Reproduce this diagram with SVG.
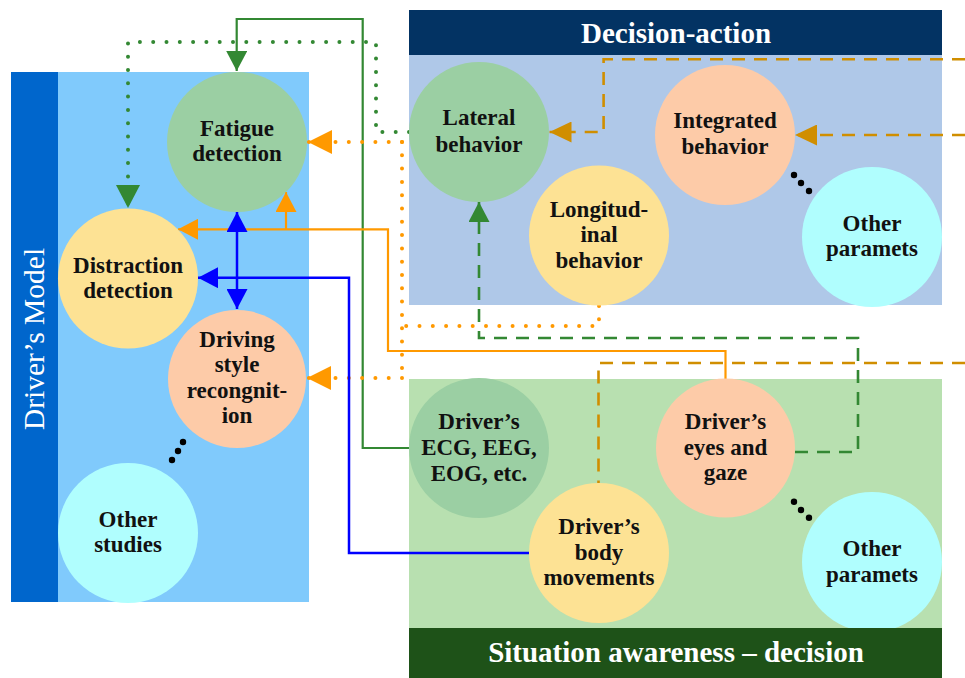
<svg xmlns="http://www.w3.org/2000/svg" width="965" height="678" viewBox="0 0 965 678">
<defs>
<style>
.nt{font-family:"Liberation Serif","Times New Roman",serif;font-weight:bold;font-size:23px;fill:#111;text-anchor:middle}
.ht{font-family:"Liberation Serif","Times New Roman",serif;font-weight:bold;font-size:29px;fill:#fff;text-anchor:middle}
.vt{font-family:"Liberation Serif","Times New Roman",serif;font-size:29.5px;fill:#fff;text-anchor:middle}
.c{fill:none;stroke-width:2.2}
.green{stroke:#338833}
.orange{stroke:#FF9900}
.gold{stroke:#D08E00}
.blue{stroke:#0000FF;stroke-width:2.5}
.dot{stroke-width:4;stroke-linecap:round;stroke-dasharray:0 13.3}
.dash{stroke-width:2.6;stroke-dasharray:13 9}
.cg{fill:#9BCFA3}
.cy{fill:#FDE294}
.cp{fill:#FDCBA8}
.cc{fill:#B0FEFE}
.ell{fill:#000}
</style>
<marker id="aG" markerUnits="userSpaceOnUse" viewBox="0 0 21 21" markerWidth="21" markerHeight="21" refX="20" refY="10.5" orient="auto"><path d="M0,0 L20,10.5 L0,21z" fill="#338833"/></marker>
<marker id="aGb" markerUnits="userSpaceOnUse" viewBox="0 0 24 24" markerWidth="24" markerHeight="24" refX="23" refY="12" orient="auto"><path d="M0,0 L23,12 L0,24z" fill="#338833"/></marker>
<marker id="aO" markerUnits="userSpaceOnUse" viewBox="0 0 21 21" markerWidth="21" markerHeight="21" refX="20" refY="10.5" orient="auto"><path d="M0,0 L20,10.5 L0,21z" fill="#FF9900"/></marker>
<marker id="aOb" markerUnits="userSpaceOnUse" viewBox="0 0 24 24" markerWidth="24" markerHeight="24" refX="24" refY="12" orient="auto"><path d="M0,0 L24,12 L0,24z" fill="#FF9900"/></marker>
<marker id="aD" markerUnits="userSpaceOnUse" viewBox="0 0 22 21" markerWidth="22" markerHeight="21" refX="22" refY="10.5" orient="auto"><path d="M0,0 L22,10.5 L0,21z" fill="#D08E00"/></marker>
<marker id="aB" markerUnits="userSpaceOnUse" viewBox="0 0 21 21" markerWidth="21" markerHeight="21" refX="20" refY="10.5" orient="auto-start-reverse"><path d="M0,0 L20,10.5 L0,21z" fill="#0000FF"/></marker>
</defs>

<g id="panels">
<rect x="11" y="72" width="298" height="530" fill="#80CAFC"/>
<rect x="11" y="72" width="47" height="530" fill="#0066CC"/>
<text class="vt" transform="translate(44,339) rotate(-90)">Driver’s Model</text>
<rect x="409" y="10" width="533" height="45" fill="#033363"/>
<rect x="409" y="55" width="533" height="250" fill="#AFC8E8"/>
<text class="ht" x="676" y="43">Decision-action</text>
<rect x="409" y="379" width="533" height="249" fill="#B8E0B0"/>
</g>

<g id="connectors">
<path class="c green" d="M409,448 H362.7 V19 H236.7 V71" marker-end="url(#aG)"/>
<path class="c green dot" d="M409,132 H376 V42 H128 V208" marker-end="url(#aGb)"/>
<path class="c green dash" d="M795,452 H858 V338 H479 V202" marker-end="url(#aG)"/>
<path class="c orange" d="M725.5,379 V351 H388 V229.3 H178" marker-end="url(#aO)"/>
<path class="c orange" d="M286,229.3 V192" marker-end="url(#aO)"/>
<path class="c orange dot" d="M599,306 V326 H402"/>
<path class="c orange dot" d="M402,142 V378"/>
<path class="c orange dot" d="M402,142 H308" marker-end="url(#aOb)"/>
<path class="c orange dot" d="M402,378 H307" marker-end="url(#aOb)"/>
<path class="c gold dash" d="M965,59.3 H603.6 V132 H549.5" marker-end="url(#aD)"/>
<path class="c gold dash" d="M965,135 H795" marker-end="url(#aD)"/>
<path class="c gold dash" d="M965,363 H598.5 V483"/>
<path class="c blue" d="M529,553 H349 V277.7 H198" marker-end="url(#aB)"/>
<path class="c blue" d="M237,212 V309" marker-start="url(#aB)" marker-end="url(#aB)"/>
</g>

<g id="fatigue"><circle class="cg" cx="237" cy="142" r="70"/><text class="nt" x="237" y="136">Fatigue</text><text class="nt" x="237" y="161.3">detection</text></g>
<g id="distraction"><circle class="cy" cx="128" cy="278.5" r="70"/><text class="nt" x="128" y="272.7">Distraction</text><text class="nt" x="128" y="297.7">detection</text></g>
<g id="driving-style"><circle class="cp" cx="237" cy="379" r="69"/><text class="nt" x="237" y="346.5">Driving</text><text class="nt" x="237" y="372">style</text><text class="nt" x="237" y="397.5">recongnit-</text><text class="nt" x="237" y="423">ion</text></g>
<g id="other-studies"><circle class="cc" cx="128" cy="533" r="70"/><text class="nt" x="128" y="526.7">Other</text><text class="nt" x="128" y="551.7">studies</text></g>
<g id="ellipsis-1"><circle class="ell" cx="183" cy="442" r="3.2"/><circle class="ell" cx="178" cy="451" r="3.2"/><circle class="ell" cx="172" cy="460" r="3.2"/></g>

<g id="lateral"><circle class="cg" cx="479" cy="132" r="70"/><text class="nt" x="479" y="125">Lateral</text><text class="nt" x="479" y="151.7">behavior</text></g>
<g id="longitudinal"><circle class="cy" cx="599" cy="235.5" r="70"/><text class="nt" x="599" y="216.7">Longitud-</text><text class="nt" x="599" y="241.7">inal</text><text class="nt" x="599" y="267.7">behavior</text></g>
<g id="integrated"><circle class="cp" cx="725" cy="135" r="70"/><text class="nt" x="725" y="128.3">Integrated</text><text class="nt" x="725" y="154">behavior</text></g>
<g id="other-params-top"><circle class="cc" cx="872" cy="237" r="70"/><text class="nt" x="872" y="230.7">Other</text><text class="nt" x="872" y="255.7">paramets</text></g>
<g id="ellipsis-2"><circle class="ell" cx="794" cy="175" r="3.2"/><circle class="ell" cx="801" cy="183" r="3.2"/><circle class="ell" cx="809" cy="191" r="3.2"/></g>

<g id="ecg"><circle class="cg" cx="479" cy="448" r="70"/><text class="nt" x="479" y="429.3">Driver’s</text><text class="nt" x="479" y="455">ECG, EEG,</text><text class="nt" x="479" y="481">EOG, etc.</text></g>
<g id="eyes"><circle class="cp" cx="725.5" cy="448" r="69.5"/><text class="nt" x="725.5" y="429.3">Driver’s</text><text class="nt" x="725.5" y="455">eyes and</text><text class="nt" x="725.5" y="480">gaze</text></g>
<g id="body"><circle class="cy" cx="599" cy="553" r="70"/><text class="nt" x="599" y="534.3">Driver’s</text><text class="nt" x="599" y="560">body</text><text class="nt" x="599" y="585">movements</text></g>
<g id="other-params-bottom"><circle class="cc" cx="872" cy="562" r="70"/><text class="nt" x="872" y="556">Other</text><text class="nt" x="872" y="581.7">paramets</text></g>
<g id="ellipsis-3"><circle class="ell" cx="794" cy="501.7" r="3.2"/><circle class="ell" cx="801" cy="510" r="3.2"/><circle class="ell" cx="809" cy="517.7" r="3.2"/></g>

<g id="situation-bar">
<rect x="409" y="628" width="533" height="50" fill="#1E5218"/>
<text class="ht" x="676" y="662">Situation awareness – decision</text>
</g>
</svg>
